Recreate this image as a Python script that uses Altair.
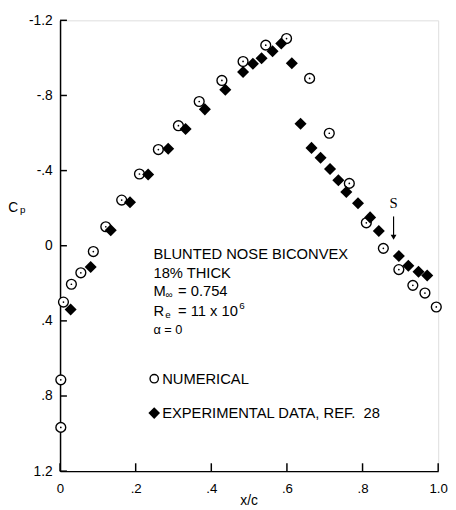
import altair as alt
import pandas as pd

# Numerical (open circles)
num_x = [0.002, 0.002, 0.009, 0.030, 0.055, 0.088, 0.121, 0.163, 0.210, 0.260, 0.313,
         0.368, 0.428, 0.484, 0.544, 0.599, 0.660, 0.712, 0.765, 0.810, 0.855, 0.896,
         0.933, 0.965, 0.995]
num_cp = [0.967, 0.714, 0.300, 0.205, 0.144, 0.031, -0.101, -0.243, -0.382, -0.512, -0.639,
          -0.768, -0.880, -0.981, -1.068, -1.103, -0.891, -0.599, -0.332, -0.122, 0.014, 0.127,
          0.211, 0.252, 0.326]

# Experimental data (filled diamonds)
exp_x = [0.028, 0.081, 0.134, 0.185, 0.233, 0.286, 0.332, 0.383, 0.437, 0.484, 0.510,
         0.533, 0.562, 0.585, 0.613, 0.636, 0.665, 0.689, 0.714, 0.736, 0.757, 0.788,
         0.820, 0.843, 0.896, 0.921, 0.948, 0.971]
exp_cp = [0.340, 0.113, -0.082, -0.231, -0.379, -0.516, -0.622, -0.726, -0.830, -0.925, -0.969,
          -0.998, -1.036, -1.077, -0.972, -0.649, -0.521, -0.469, -0.408, -0.349, -0.286, -0.226,
          -0.151, -0.078, 0.055, 0.107, 0.139, 0.159]

x_ticks = [0, 0.2, 0.4, 0.6, 0.8, 1.0]
y_ticks = [-1.2, -0.8, -0.4, 0, 0.4, 0.8, 1.2]

# annotation texts
main_text = ["BLUNTED NOSE BICONVEX", "18% THICK", "M", "= 0.754", "R", "= 11 x 10",
             "NUMERICAL", "EXPERIMENTAL DATA, REF.\u00a0\u00a028"]
main_x = [0.247, 0.247, 0.247, 0.312, 0.247, 0.312, 0.270, 0.270]
main_y = [0.043, 0.144, 0.244, 0.244, 0.348, 0.348, 0.708, 0.891]

small_text = ["\u221e", "e", "6"]
small_x = [0.279, 0.278, 0.474]
small_y = [0.262, 0.369, 0.319]

W, H = 385, 459
FONT = "Liberation Sans"

xs = alt.Scale(domain=[0, 1], nice=False, zero=False)
ys = alt.Scale(domain=[-1.2, 1.2], reverse=True, nice=False, zero=False)

x_axis = alt.Axis(values=x_ticks, title=None, grid=False, ticks=False, tickSize=0,
                  domainColor="black", domainWidth=1.5, labelFont=FONT, labelFontSize=13.5,
                  labelColor="black", labelPadding=11, labelFlush=False, labelOverlap=False,
                  labelExpr="datum.value == 0 ? '0' : replace(format(datum.value, '.1f'), '0.', '.')")
y_axis = alt.Axis(values=y_ticks, title=None, grid=False, ticks=False, tickSize=0,
                  domainColor="black", domainWidth=1.5, labelFont=FONT, labelFontSize=14,
                  labelColor="black", labelPadding=8, labelFlush=False, labelOverlap=False,
                  labelExpr="datum.value == 0 ? '0' : (datum.value < 0 ? '-' : '') + replace(format(abs(datum.value), '.1f'), '0.', '.')")


def X(f):
    return alt.X(f, scale=xs, axis=x_axis, title=None)


def Y(f):
    return alt.Y(f, scale=ys, axis=y_axis, title=None)


num_df = pd.DataFrame({"x": num_x, "y": num_cp})
exp_df = pd.DataFrame({"x": exp_x, "y": exp_cp})

circles = alt.Chart(num_df).mark_point(
    shape="circle", fill="white", fillOpacity=1, stroke="black", strokeWidth=1.4,
    size=100, opacity=1
).encode(x=X("x:Q"), y=Y("y:Q"))
dots = alt.Chart(num_df).mark_point(
    shape="circle", filled=True, color="black", size=3, opacity=1
).encode(x=X("x:Q"), y=Y("y:Q"))

diamonds = alt.Chart(exp_df).mark_point(
    shape="diamond", filled=True, color="black", size=150, opacity=1
).encode(x=X("x:Q"), y=Y("y:Q"))

# inward ticks
yt = alt.Chart(pd.DataFrame({"y": y_ticks})).mark_rule(color="black", strokeWidth=1.5).encode(
    y=Y("y:Q"), x=alt.value(0), x2=alt.value(7))
xt = alt.Chart(pd.DataFrame({"x": x_ticks})).mark_rule(color="black", strokeWidth=1.5).encode(
    x=X("x:Q"), y=alt.value(H), y2=alt.value(H - 8))

main_df = pd.DataFrame({"x": main_x, "y": main_y, "t": main_text})
main_txt = alt.Chart(main_df).mark_text(
    align="left", baseline="middle", font=FONT, fontSize=15, color="black"
).encode(x=X("x:Q"), y=Y("y:Q"), text="t:N")

small_df = pd.DataFrame({"x": small_x, "y": small_y, "t": small_text})
small_txt = alt.Chart(small_df).mark_text(
    align="left", baseline="middle", font=FONT, fontSize=10, color="black"
).encode(x=X("x:Q"), y=Y("y:Q"), text="t:N")

alpha_txt = alt.Chart(pd.DataFrame({"x": [0.247], "y": [0.448], "t": ["\u03b1 = 0"]})).mark_text(
    align="left", baseline="middle", font=FONT, fontSize=13, color="black"
).encode(x=X("x:Q"), y=Y("y:Q"), text="t:N")

# legend symbols
leg_c = alt.Chart(pd.DataFrame({"x": [0.249], "y": [0.708]})).mark_point(
    shape="circle", filled=False, stroke="black", strokeWidth=1.4, size=72, opacity=1
).encode(x=X("x:Q"), y=Y("y:Q"))
leg_d = alt.Chart(pd.DataFrame({"x": [0.249], "y": [0.891]})).mark_point(
    shape="diamond", filled=True, color="black", size=140, opacity=1
).encode(x=X("x:Q"), y=Y("y:Q"))

# separation marker S with arrow
s_txt = alt.Chart(pd.DataFrame({"x": [0.882], "y": [-0.226], "t": ["S"]})).mark_text(
    align="center", baseline="middle", font="Liberation Serif", fontSize=15, color="black"
).encode(x=X("x:Q"), y=Y("y:Q"), text="t:N")
s_shaft = alt.Chart(pd.DataFrame({"x": [0.882], "y": [-0.156], "y2": [-0.04]})).mark_rule(
    color="black", strokeWidth=1.2
).encode(x=X("x:Q"), y=Y("y:Q"), y2="y2:Q")
s_head = alt.Chart(pd.DataFrame({"x": [0.882], "y": [-0.045]})).mark_point(
    shape="triangle-down", filled=True, color="black", size=35, opacity=1
).encode(x=X("x:Q"), y=Y("y:Q"))

# axis titles
c_txt = alt.Chart(pd.DataFrame({"x": [-0.124], "y": [-0.2], "t": ["C"]})).mark_text(
    align="center", baseline="middle", font=FONT, fontSize=14, color="black"
).encode(x=X("x:Q"), y=Y("y:Q"), text="t:N")
p_txt = alt.Chart(pd.DataFrame({"x": [-0.099], "y": [-0.19], "t": ["p"]})).mark_text(
    align="center", baseline="middle", font=FONT, fontSize=10, color="black"
).encode(x=X("x:Q"), y=Y("y:Q"), text="t:N")
xc_txt = alt.Chart(pd.DataFrame({"x": [0.5], "y": [1.38], "t": ["x/c"]})).mark_text(
    align="center", baseline="alphabetic", font=FONT, fontSize=14, color="black"
).encode(x=X("x:Q"), y=Y("y:Q"), text="t:N")

chart = alt.layer(
    circles, dots, diamonds, yt, xt, main_txt, small_txt, alpha_txt, leg_c, leg_d,
    s_txt, s_shaft, s_head, c_txt, p_txt, xc_txt
).properties(
    width=W, height=H,
    autosize=alt.AutoSizeParams(type="none"),
    padding={"left": 53, "top": 8, "right": 10, "bottom": 35},
).configure_view(stroke=None).configure(background="white")

chart.save("out.html", embed_options={"renderer": "svg", "actions": False})
